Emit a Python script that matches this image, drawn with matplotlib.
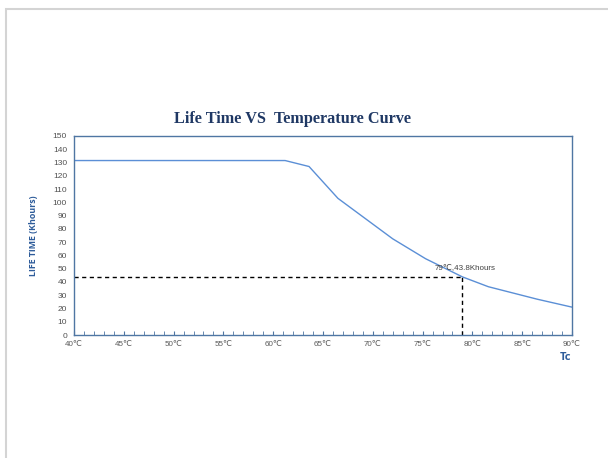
import matplotlib
matplotlib.use("Agg")
import matplotlib.pyplot as plt
from matplotlib.patches import Rectangle
from matplotlib.ticker import MultipleLocator

temps = [40, 61.2, 63.6, 66.5, 72.0, 75.3, 79.0, 81.6, 86.5, 90]
life = [131.5, 131.5, 127.0, 103.0, 72.5, 57.5, 43.8, 36.4, 27.0, 21.0]
mark_t = 79
mark_v = 43.8
x_ticks = [40, 45, 50, 55, 60, 65, 70, 75, 80, 85, 90]
x_labels = [f"{t}℃" for t in x_ticks]
y_ticks = list(range(0, 151, 10))

fig = plt.figure(figsize=(6.08, 4.58), dpi=100)
fig.patches.append(Rectangle((6/608, -0.1), 1.2, 1.1 - 9/458, transform=fig.transFigure,
                             fill=False, edgecolor="#d4d4d4", linewidth=1.5))

ax = fig.add_axes([74/608, 123/458, 498/608, 199/458])
axis_c = "#4f76a3"
for s in ax.spines.values():
    s.set_color(axis_c)
    s.set_linewidth(1.0)

ax.plot(temps, life, color="#5b8fd6", linewidth=1.0)
ax.plot([40, mark_t], [mark_v, mark_v], color="black", linestyle=(0, (3, 2.5)), linewidth=1.0)
ax.plot([mark_t, mark_t], [0, mark_v], color="black", linestyle=(0, (3, 2.5)), linewidth=1.0)
ax.text(mark_t - 2.8, mark_v + 5.5, f"{mark_t}℃,{mark_v}Khours", fontsize=5.8,
        color="#404040", family=["Liberation Sans", "DejaVu Sans"])

ax.set_xlim(40, 90)
ax.set_ylim(0, 150)
ax.set_xticks(x_ticks)
ax.set_xticklabels(x_labels, fontsize=5.8, color="#595959", family=["Liberation Sans", "DejaVu Sans"])
ax.xaxis.set_minor_locator(MultipleLocator(1))
ax.tick_params(axis="x", which="both", direction="in", length=3, color=axis_c, pad=4)
ax.set_yticks(y_ticks)
ax.set_yticklabels([str(v) for v in y_ticks], fontsize=6, color="#505050", family="Liberation Sans")
ax.tick_params(axis="y", length=0, pad=5)

ax.set_ylabel("LIFE TIME (Khours)", fontsize=6.4, fontweight="bold", color="#2e5c9a",
              family="Open Sans", labelpad=11)
fig.text(566/608, 1 - 358/458, "Tc", fontsize=8, fontweight="bold", color="#2e5c9a",
         family="Open Sans", ha="center", va="center")
fig.text(292/608, 1 - 119/458, "Life Time VS  Temperature Curve", fontsize=11.7,
         fontweight="bold", color="#1f3864", family="Liberation Serif", ha="center", va="center")

fig.savefig("out.png", dpi=100)
